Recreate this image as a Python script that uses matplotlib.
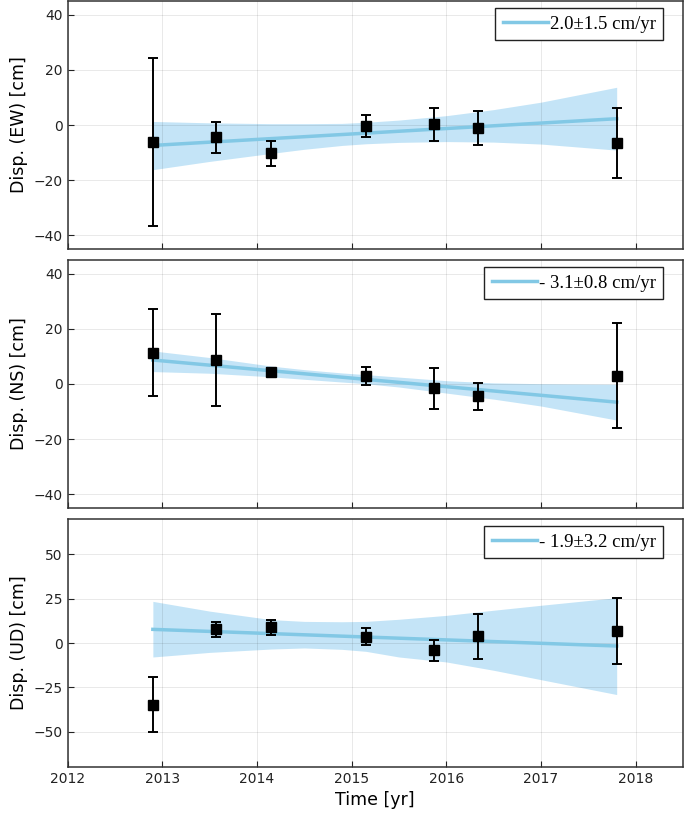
import matplotlib
matplotlib.use("Agg")
import matplotlib.pyplot as plt

# epochs of the observations [yr]
t = [2012.90, 2013.57, 2014.15, 2015.15, 2015.87, 2016.33, 2017.80]

# displacements and 1-sigma errors [cm]
ew = [-6.2, -4.4, -10.3, -0.4, 0.2, -1.1, -6.5]
ew_err = [30.5, 5.6, 4.6, 3.9, 6.1, 6.1, 12.6]
ns = [11.4, 8.7, 4.4, 2.9, -1.6, -4.5, 3.0]
ns_err = [15.8, 16.7, 1.5, 3.1, 7.3, 5.0, 19.0]
ud = [-34.8, 7.7, 8.9, 3.4, -4.1, 3.8, 6.6]
ud_err = [15.7, 4.4, 4.1, 4.8, 6.0, 12.6, 18.6]

# fitted trend lines (end points) [cm]
fit_t = [2012.90, 2017.80]
ew_fit = [-7.4, 2.3]
ns_fit = [8.7, -6.6]
ud_fit = [7.7, -1.7]

# confidence bands
band_t = [2012.90, 2013.50, 2014.15, 2014.50, 2014.90, 2015.15, 2015.50, 2016.00, 2016.50, 2017.00, 2017.80]
ew_hi = [1.3, 0.8, 0.5, 0.5, 0.6, 1.0, 1.8, 3.4, 5.6, 8.3, 13.7]
ew_lo = [-16.2, -13.2, -10.3, -8.8, -7.4, -6.8, -6.3, -6.0, -6.2, -6.9, -9.1]
ns_hi = [12.0, 9.6, 6.5, 5.2, 4.0, 3.4, 2.5, 1.2, 0.4, 0.1, -0.1]
ns_lo = [4.5, 3.9, 2.6, 1.7, 0.7, 0.1, -1.1, -3.3, -5.5, -8.0, -13.1]
ud_hi = [23.5, 18.0, 13.2, 12.2, 12.0, 12.2, 13.4, 15.6, 18.5, 21.3, 25.6]
ud_lo = [-7.9, -5.3, -3.4, -2.8, -3.6, -4.7, -7.9, -10.7, -15.4, -20.7, -29.1]

labels = ["2.0\u00b11.5 cm/yr", "- 3.1\u00b10.8 cm/yr", "- 1.9\u00b13.2 cm/yr"]
ylabels = ["Disp. (EW) [cm]", "Disp. (NS) [cm]", "Disp. (UD) [cm]"]
ylims = [(-45, 45), (-45, 45), (-70, 70)]
yticks = [[-40, -20, 0, 20, 40], [-40, -20, 0, 20, 40], [-50, -25, 0, 25, 50]]
xticks = [2012, 2013, 2014, 2015, 2016, 2017, 2018]

plt.rcParams['font.family'] = ['DejaVu Sans']
fig = plt.figure(figsize=(6.85, 8.13), dpi=100)

left, width, height = 0.0988, 0.8982, 0.305
bottoms = [0.6937, 0.3752, 0.0566]

data = [(ew, ew_err, ew_fit, ew_lo, ew_hi),
        (ns, ns_err, ns_fit, ns_lo, ns_hi),
        (ud, ud_err, ud_fit, ud_lo, ud_hi)]

for i, (y, yerr, fit, lo, hi) in enumerate(data):
    ax = fig.add_axes([left, bottoms[i], width, height])
    ax.fill_between(band_t, lo, hi, color='#56b4e9', alpha=0.35, lw=0, zorder=1)
    ax.plot(fit_t, fit, color='#82c8e5', lw=2.5, label=labels[i], zorder=2)
    ax.errorbar(t, y, yerr=yerr, fmt='s', color='black', ms=7, elinewidth=1.4,
                capsize=3.6, capthick=1.4, zorder=3)
    ax.set_xlim(2012, 2018.5)
    ax.set_ylim(*ylims[i])
    ax.set_xticks(xticks)
    ax.set_yticks(yticks[i])
    ax.grid(True, color='black', alpha=0.1, lw=0.6)
    ax.tick_params(direction='in', length=4, labelsize=10, colors='#222222')
    for s in ax.spines.values():
        s.set_linewidth(1.1)
        s.set_color('#333333')
    ax.set_ylabel(ylabels[i], fontsize=12.5)
    if i < 2:
        ax.tick_params(labelbottom=False)
    else:
        ax.set_xlabel("Time [yr]", fontsize=12.5)
    leg = ax.legend(loc='upper right', bbox_to_anchor=(0.968, 0.972), borderaxespad=0,
                    fancybox=False, framealpha=1, edgecolor='#222222',
                    handlelength=2.4, handletextpad=0.1, borderpad=0.4,
                    prop={'family': 'Liberation Serif', 'size': 13.5})
    leg.get_frame().set_linewidth(1.0)

fig.savefig("out.png", dpi=100)
